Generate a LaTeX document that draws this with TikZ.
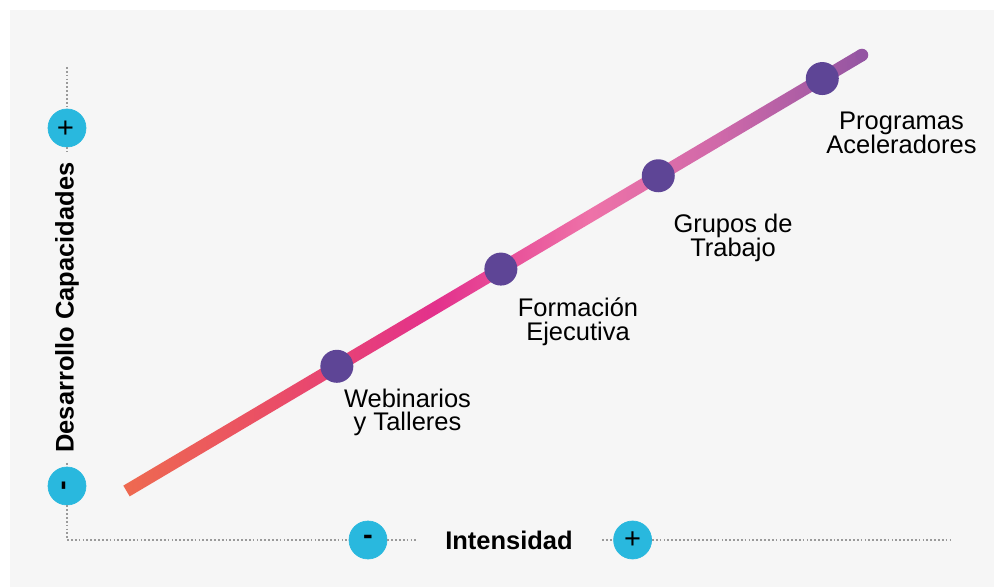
\documentclass[tikz,border=0pt]{standalone}
\usepackage{fontspec}
\setmainfont{Liberation Sans}
\usepackage{tikz}

\definecolor{fondo}{HTML}{F6F6F6}
\definecolor{celeste}{HTML}{29B8DE}
\definecolor{morado}{HTML}{5E4596}
\definecolor{punteado}{HTML}{9A9A9A}
\definecolor{gA}{HTML}{EE6A50}
\definecolor{gB}{HTML}{EA4E66}
\definecolor{gC}{HTML}{E3318C}
\definecolor{gD}{HTML}{EE72A8}
\definecolor{gE}{HTML}{D069A9}
\definecolor{gF}{HTML}{9455A2}

\pgfdeclarehorizontalshading{progresion}{100bp}{color(0bp)=(gA); color(25bp)=(gA);
  color(35bp)=(gB); color(46bp)=(gC); color(56.5bp)=(gD); color(65bp)=(gE);
  color(75bp)=(gF); color(100bp)=(gF)}

\tikzset{
  eje/.style={draw=celeste,fill=celeste,circle,inner sep=0pt,minimum size=0.76cm,
    font=\fontsize{16.5}{16}\selectfont},
  ejetexto/.style={font=\fontsize{14.5}{14}\selectfont\bfseries,inner ysep=0pt},
  punto/.style={circle,fill=morado,inner sep=0pt,minimum size=0.66cm},
  etiqueta/.style={align=center,inner sep=0pt,
    font={\fontsize{14.5}{13.4}\selectfont\lineskiplimit=-20pt}},
  punteada/.style={draw=punteado,line width=0.6pt,dash pattern=on 1pt off 1.2pt}
}

\begin{document}
\begin{tikzpicture}[x=0.02cm,y=-0.02cm]
\useasboundingbox (0,0) rectangle (994,587);
\fill[white] (0,0) rectangle (994,587);
\fill[fondo] (10,10) rectangle (994,587);

% linea de progresion
\coordinate (ini) at (126.5,491);
\coordinate (fin) at (862,55);
\begin{scope}[shift={(ini)},rotate=30.66]
\shade[shading=progresion] (0,-6.25) rectangle (855,6.25);
\end{scope}
\fill[gF] (fin) circle (6.25);

% ejes
\coordinate (ytop) at (67,67);
\coordinate (orig) at (67,540);
\coordinate (xfin) at (950,540);
\node[eje,rotate=90] (ymas) at (67,128) {+};
\node[eje,rotate=90] (ymenos) at (67,486) {\bfseries -};
\node[ejetexto,rotate=90,inner xsep=0.2cm] (ytit) at (67,307.5) {Desarrollo Capacidades};
\node[eje] (xmenos) at (368,540) {\bfseries -};
\node[eje] (xmas) at (632.6,540) {+};
\node[ejetexto,inner xsep=0.58cm] (xtit) at (509,540) {Intensidad};

\draw[punteada] (ytop) -- (ymas) (ymas) -- (ytit) (ytit) -- (ymenos)
  (ymenos) -- (orig) -- (xmenos) (xmenos) -- (xtit) (xtit) -- (xmas) (xmas) -- (xfin);

% etapas
\path (ini) -- (fin)
  node[punto,pos=0.286] (web) {}
  node[punto,pos=0.509] (form) {}
  node[punto,pos=0.723] (grup) {}
  node[punto,pos=0.946] (prog) {};

\node[etiqueta] (webt) at (407.5,412.3) {Webinarios\\y Talleres};
\node[etiqueta] (formt) at (578,321.5) {Formación\\Ejecutiva};
\node[etiqueta] (grupt) at (733,238) {Grupos de\\Trabajo};
\node[etiqueta] (progt) at (901.5,132.6) {Programas\\Aceleradores};
\end{tikzpicture}
\end{document}
